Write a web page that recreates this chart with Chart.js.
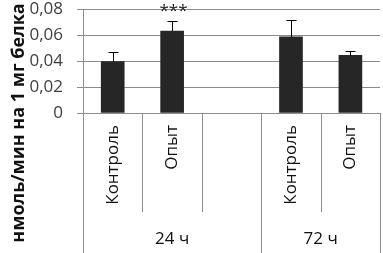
<!DOCTYPE html>
<html><head><meta charset="utf-8">
<script src="https://cdn.jsdelivr.net/npm/chart.js@4"></script>
<style>html,body{margin:0;padding:0;background:#fff}#wrap{width:383px;height:253px}</style>
</head><body><div id="wrap"><canvas id="c" width="383" height="253"></canvas></div>
<script>
const categories = ["Контроль", "Опыт", "", "Контроль", "Опыт"];
const values = [0.0395, 0.063, null, 0.0585, 0.0443];
const errors = [0.0071, 0.0075, null, 0.0128, 0.0036];
const significance = ["", "***", "", "", ""];
const groups = ["24 ч", "72 ч"];
const groupSizes = [3, 2];
const yTicks = [0, 0.02, 0.04, 0.06, 0.08];
const yTitle = "нмоль/мин на 1 мг белка";

const FONT = "'Open Sans', 'Liberation Sans', sans-serif";

const deco = {
  id: 'deco',
  afterDatasetsDraw(chart) {
    const ctx = chart.ctx, x = chart.scales.x, y = chart.scales.y;
    ctx.save();
    ctx.strokeStyle = '#000'; ctx.lineWidth = 1;
    values.forEach((v, i) => {
      if (v == null) return;
      const px = Math.round(x.getPixelForValue(i)) + 0.5;
      const y1 = y.getPixelForValue(v), y2 = Math.round(y.getPixelForValue(v + errors[i])) + 0.5;
      ctx.beginPath(); ctx.moveTo(px, y1); ctx.lineTo(px, y2);
      ctx.moveTo(px - 5, y2); ctx.lineTo(px + 5, y2); ctx.stroke();
      if (significance[i]) {
        ctx.fillStyle = '#222'; ctx.font = "17px " + FONT;
        ctx.textAlign = 'center'; ctx.textBaseline = 'alphabetic';
        ctx.fillText(significance[i], px + 1, y2 - 6);
      }
    });
    ctx.restore();
  },
  afterDraw(chart) {
    const ctx = chart.ctx, ca = chart.chartArea;
    const n = categories.length;
    const step = (ca.right - ca.left) / n;
    ctx.save();
    ctx.strokeStyle = '#8c8c8c'; ctx.lineWidth = 1;
    const groupEdges = [0];
    let acc = 0; groupSizes.forEach(s => { acc += s; groupEdges.push(acc); });
    for (let i = 0; i <= n; i++) {
      const bx = Math.round(ca.left + i * step) + 0.5;
      const isGroup = groupEdges.includes(i);
      ctx.beginPath(); ctx.moveTo(bx, ca.bottom);
      ctx.lineTo(bx, isGroup ? chart.height : 212); ctx.stroke();
    }
    ctx.fillStyle = '#111'; ctx.font = "17px " + FONT;
    ctx.textAlign = 'center'; ctx.textBaseline = 'alphabetic';
    groups.forEach((g, k) => {
      const cx = ca.left + (groupEdges[k] + groupEdges[k + 1]) / 2 * step;
      ctx.fillText(g, cx, 244);
    });
    ctx.translate(19, 123); ctx.rotate(-Math.PI / 2);
    ctx.font = "bold 18px " + FONT; ctx.textBaseline = 'middle';
    ctx.fillText(yTitle, 0, 0);
    ctx.restore();
  }
};

new Chart(document.getElementById('c'), {
  type: 'bar',
  data: { labels: categories, datasets: [{ data: values, backgroundColor: '#262626', barThickness: 23 }] },
  options: {
    responsive: false, animation: false,
    layout: { padding: { top: 0, right: 2, left: 0, bottom: 0 } },
    plugins: { legend: { display: false }, tooltip: { enabled: false } },
    scales: {
      x: {
        grid: { display: false, drawTicks: false }, border: { display: false },
        ticks: { minRotation: 90, maxRotation: 90, autoSkip: false, padding: 12, color: '#111', font: { family: FONT, size: 17 } },
        afterFit(s) { s.height = 140; }
      },
      y: {
        min: 0, max: 0.08,
        afterBuildTicks(s) { s.ticks = yTicks.map(v => ({ value: v })); },
        grid: { color: '#8c8c8c', tickLength: 6 }, border: { color: '#8c8c8c' },
        ticks: { autoSkip: false, padding: 14, color: '#404040', font: { family: FONT, size: 17 },
          callback: v => v === 0 ? '0' : v.toFixed(2).replace('.', ',') },
        afterFit(s) { s.width = 83; s.paddingTop = 9; s.paddingBottom = 0; }
      }
    }
  },
  plugins: [deco]
});
</script></body></html>
